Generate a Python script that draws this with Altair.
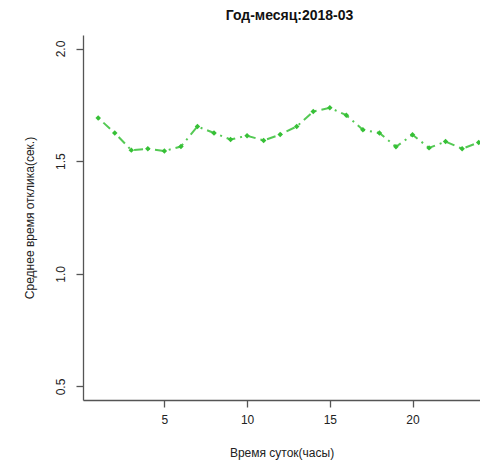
import altair as alt
import pandas as pd

hours = list(range(1, 25))
resp = [1.692, 1.625, 1.549, 1.555, 1.545, 1.565, 1.654, 1.625, 1.596, 1.613,
        1.592, 1.618, 1.654, 1.720, 1.737, 1.704, 1.639, 1.625, 1.564, 1.617,
        1.559, 1.587, 1.555, 1.583]
y_ticks = [0.5, 1.0, 1.5, 2.0]
x_ticks = [5, 10, 15, 20]

df = pd.DataFrame({"h": hours, "v": resp})
green = "#36c036"
axis_color = "#555555"

x = alt.X("h:Q", scale=alt.Scale(domain=[0.08, 24.08], nice=False, zero=False),
          axis=alt.Axis(values=x_ticks, title="Время суток(часы)", grid=False,
                        tickSize=7, labelPadding=7, titlePadding=22,
                        domainColor=axis_color, tickColor=axis_color,
                        labelFontSize=12, titleFontSize=12, titleFontWeight="normal",
                        labelColor="#222", titleColor="#222",
                        labelFont="Liberation Sans", titleFont="Liberation Sans"))
y = alt.Y("v:Q", scale=alt.Scale(domain=[0.44, 2.06], nice=False, zero=False),
          axis=alt.Axis(values=y_ticks, format=".1f", title="Среднее время отклика(сек.)",
                        grid=False, tickSize=7, labelPadding=9, labelAngle=-90,
                        labelAlign="center", labelBaseline="bottom", titlePadding=18,
                        domainColor=axis_color, tickColor=axis_color,
                        labelFontSize=12, titleFontSize=12, titleFontWeight="normal",
                        labelColor="#222", titleColor="#222",
                        labelFont="Liberation Sans", titleFont="Liberation Sans"))

line = alt.Chart(df).mark_line(color=green, strokeWidth=2, strokeDash=[2, 5, 9, 5], opacity=0.85).encode(x=x, y=y)
pts = alt.Chart(df).mark_point(shape="diamond", filled=True, color=green, size=30, opacity=1).encode(x=x, y=y)

chart = (line + pts).properties(
    width=397, height=365,
    title=alt.TitleParams("Год-месяц:2018-03", font="Liberation Sans", fontSize=14,
                          fontWeight="bold", color="#111", anchor="middle", offset=12, dx=8),
    padding={"left": 75, "top": 27, "right": 0, "bottom": 64},
    autosize=alt.AutoSizeParams(type="none"),
).configure_view(stroke=None).configure_axis(domainWidth=1.3, tickWidth=1.3)

chart.save("out.html", embed_options={"renderer": "svg", "actions": False})
